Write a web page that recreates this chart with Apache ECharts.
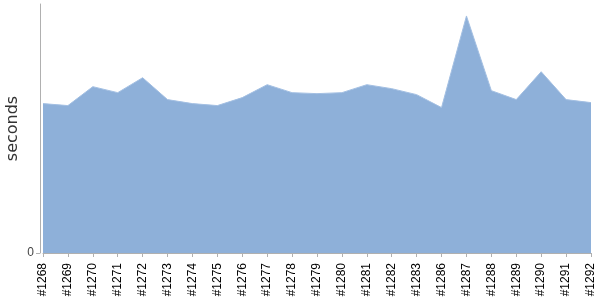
<!DOCTYPE html>
<html><head><meta charset="utf-8">
<script src="https://cdn.jsdelivr.net/npm/echarts@6/dist/echarts.min.js"></script>
<style>html,body{margin:0;padding:0;background:#fff}#c{width:600px;height:300px}</style>
</head><body><div id="c"></div>
<script>
const categories = ['#1268','#1269','#1270','#1271','#1272','#1273','#1274','#1275','#1276','#1277','#1278','#1279','#1280','#1281','#1282','#1283','#1286','#1287','#1288','#1289','#1290','#1291','#1292'];
const seconds = [150, 148, 167, 161, 176, 154, 150, 148, 156, 169, 161, 160, 161, 169, 165, 159, 146, 238, 163, 154, 182, 154, 151];
const yMin = 0, yMax = 250, yInterval = 250;
const yTickValues = [0];

const chart = echarts.init(document.getElementById('c'), null, {renderer: 'canvas'});
chart.setOption({
  animation: false,
  grid: {left: 43, right: 9, top: 4, bottom: 47, containLabel: false, outerBoundsMode: 'none'},
  xAxis: {
    type: 'category', data: categories, boundaryGap: false, offset: 4,
    axisLine: {lineStyle: {color: '#b0b0b0', width: 1}},
    axisTick: {alignWithLabel: true, length: 4, lineStyle: {color: '#b0b0b0'}},
    axisLabel: {rotate: 90, interval: 0, color: '#000', fontSize: 12, fontFamily: 'Liberation Sans', margin: 6}
  },
  yAxis: {
    type: 'value', min: yMin, max: yMax, interval: yInterval, offset: 3,
    name: 'seconds', nameLocation: 'middle', nameGap: 19, nameRotate: 90, nameMoveOverlap: false,
    nameTextStyle: {color: '#333', fontSize: 16, fontFamily: 'DejaVu Sans'},
    axisLine: {show: true, lineStyle: {color: '#b0b0b0'}},
    axisTick: {show: true, length: 4, customValues: yTickValues, lineStyle: {color: '#b0b0b0'}},
    splitLine: {show: false},
    axisLabel: {color: '#444', fontSize: 12, fontFamily: 'Liberation Sans', margin: 6,
      customValues: yTickValues, formatter: v => String(v)}
  },
  series: [{
    type: 'line', data: seconds, showSymbol: false, symbol: 'none',
    lineStyle: {color: '#a3bfe2', width: 1},
    areaStyle: {color: '#8eb0d9', opacity: 1}
  }]
});
</script></body></html>
